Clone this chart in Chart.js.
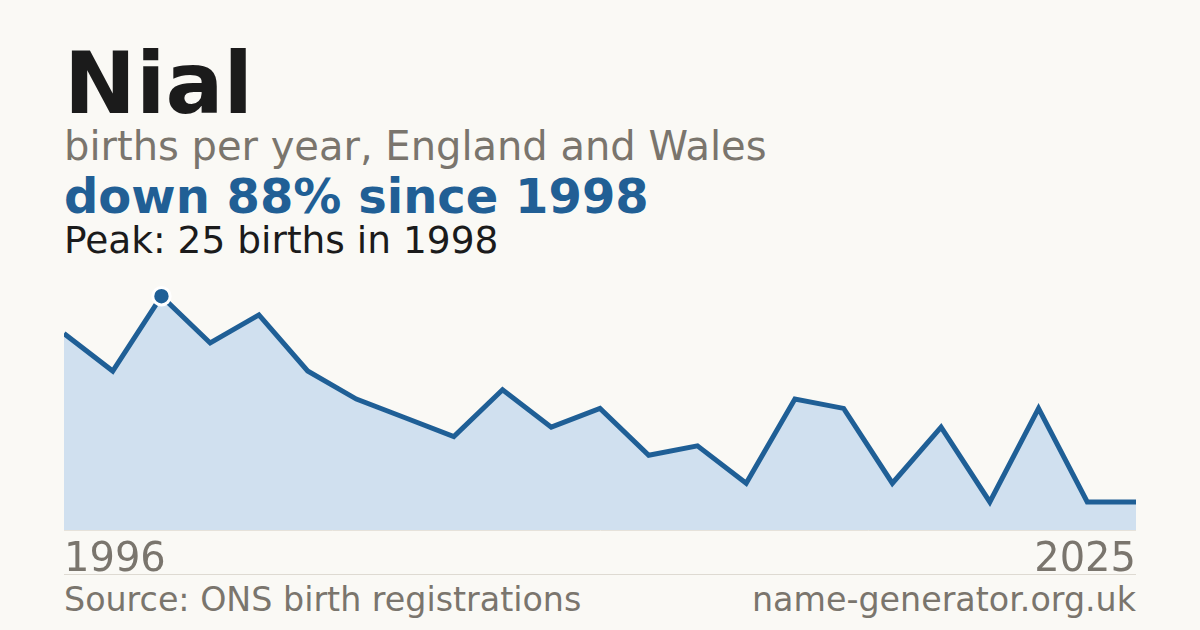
<!DOCTYPE html>
<html>
<head>
<meta charset="utf-8">
<script src="https://cdn.jsdelivr.net/npm/chart.js@4"></script>
<style>
  html, body { margin:0; padding:0; }
  body { width:1200px; height:630px; background:#faf9f5; position:relative; overflow:hidden; font-family:"DejaVu Sans", sans-serif; }
  .t { position:absolute; left:64px; line-height:1; white-space:nowrap; }
  #title { top:40px; font-size:86px; font-weight:bold; color:#1b1b1b; }
  #sub { top:126px; font-size:40px; color:#7a756d; }
  #down { top:172px; font-size:48px; font-weight:bold; color:#215f95; }
  #peak { top:222px; font-size:37.5px; color:#1b1b1b; }
  #src { top:583px; font-size:33.3px; color:#7a756d; }
  #site { top:583px; font-size:33.3px; color:#7a756d; left:auto; right:64px; }
  #sep { position:absolute; left:64px; width:1072px; top:574px; height:1px; background:#dedad2; }
  #wrap { position:absolute; left:64px; top:270px; width:1072px; height:310px; }
</style>
</head>
<body>
<div class="t" id="title">Nial</div>
<div class="t" id="sub">births per year, England and Wales</div>
<div class="t" id="down">down 88% since 1998</div>
<div class="t" id="peak">Peak: 25 births in 1998</div>
<div id="wrap"><canvas id="c"></canvas></div>
<div id="sep"></div>
<div class="t" id="src">Source: ONS birth registrations</div>
<div class="t" id="site">name-generator.org.uk</div>
<script>
const years = ["1996","1997","1998","1999","2000","2001","2002","2003","2004","2005","2006","2007","2008","2009","2010","2011","2012","2013","2014","2015","2016","2017","2025"];
const births = [21,17,25,20,23,17,14,12,10,15,11,13,8,9,5,14,13,5,11,3,13,3,3];
const tickLabels = ["1996","2025"];
const peakIndex = 2;

const ctx = document.getElementById('c');
new Chart(ctx, {
  type: 'line',
  data: {
    labels: years,
    datasets: [{
      data: births,
      borderColor: '#1f5f96',
      borderWidth: 5,
      backgroundColor: '#d0e0ef',
      fill: 'origin',
      tension: 0,
      clip: 0,
      pointRadius: births.map((v,i) => i === peakIndex ? 8.7 : 0),
      pointHoverRadius: 0,
      pointBackgroundColor: '#1f5f96',
      pointBorderColor: '#ffffff',
      pointBorderWidth: 3
    }]
  },
  options: {
    responsive: true,
    maintainAspectRatio: false,
    animation: false,
    events: [],
    layout: { padding: 0, autoPadding: false },
    plugins: { legend: { display:false }, tooltip: { enabled:false } },
    scales: {
      y: { display:false, min:0, max:27.8 },
      x: {
        display: true,
        grid: { display:false, drawTicks:false },
        border: { display:true, color:'#e6e2da', width:1 },
        afterFit: s => { s.height = 50; s.paddingLeft = 0; s.paddingRight = 0; },
        ticks: {
          autoSkip: false,
          maxRotation: 0,
          align: 'inner',
          padding: 7,
          color: '#7a756d',
          font: { family: 'DejaVu Sans', size: 40 },
          callback: (v, i, arr) => i === 0 ? tickLabels[0] : (i === arr.length - 1 ? tickLabels[1] : '')
        }
      }
    }
  }
});
</script>
</body>
</html>
